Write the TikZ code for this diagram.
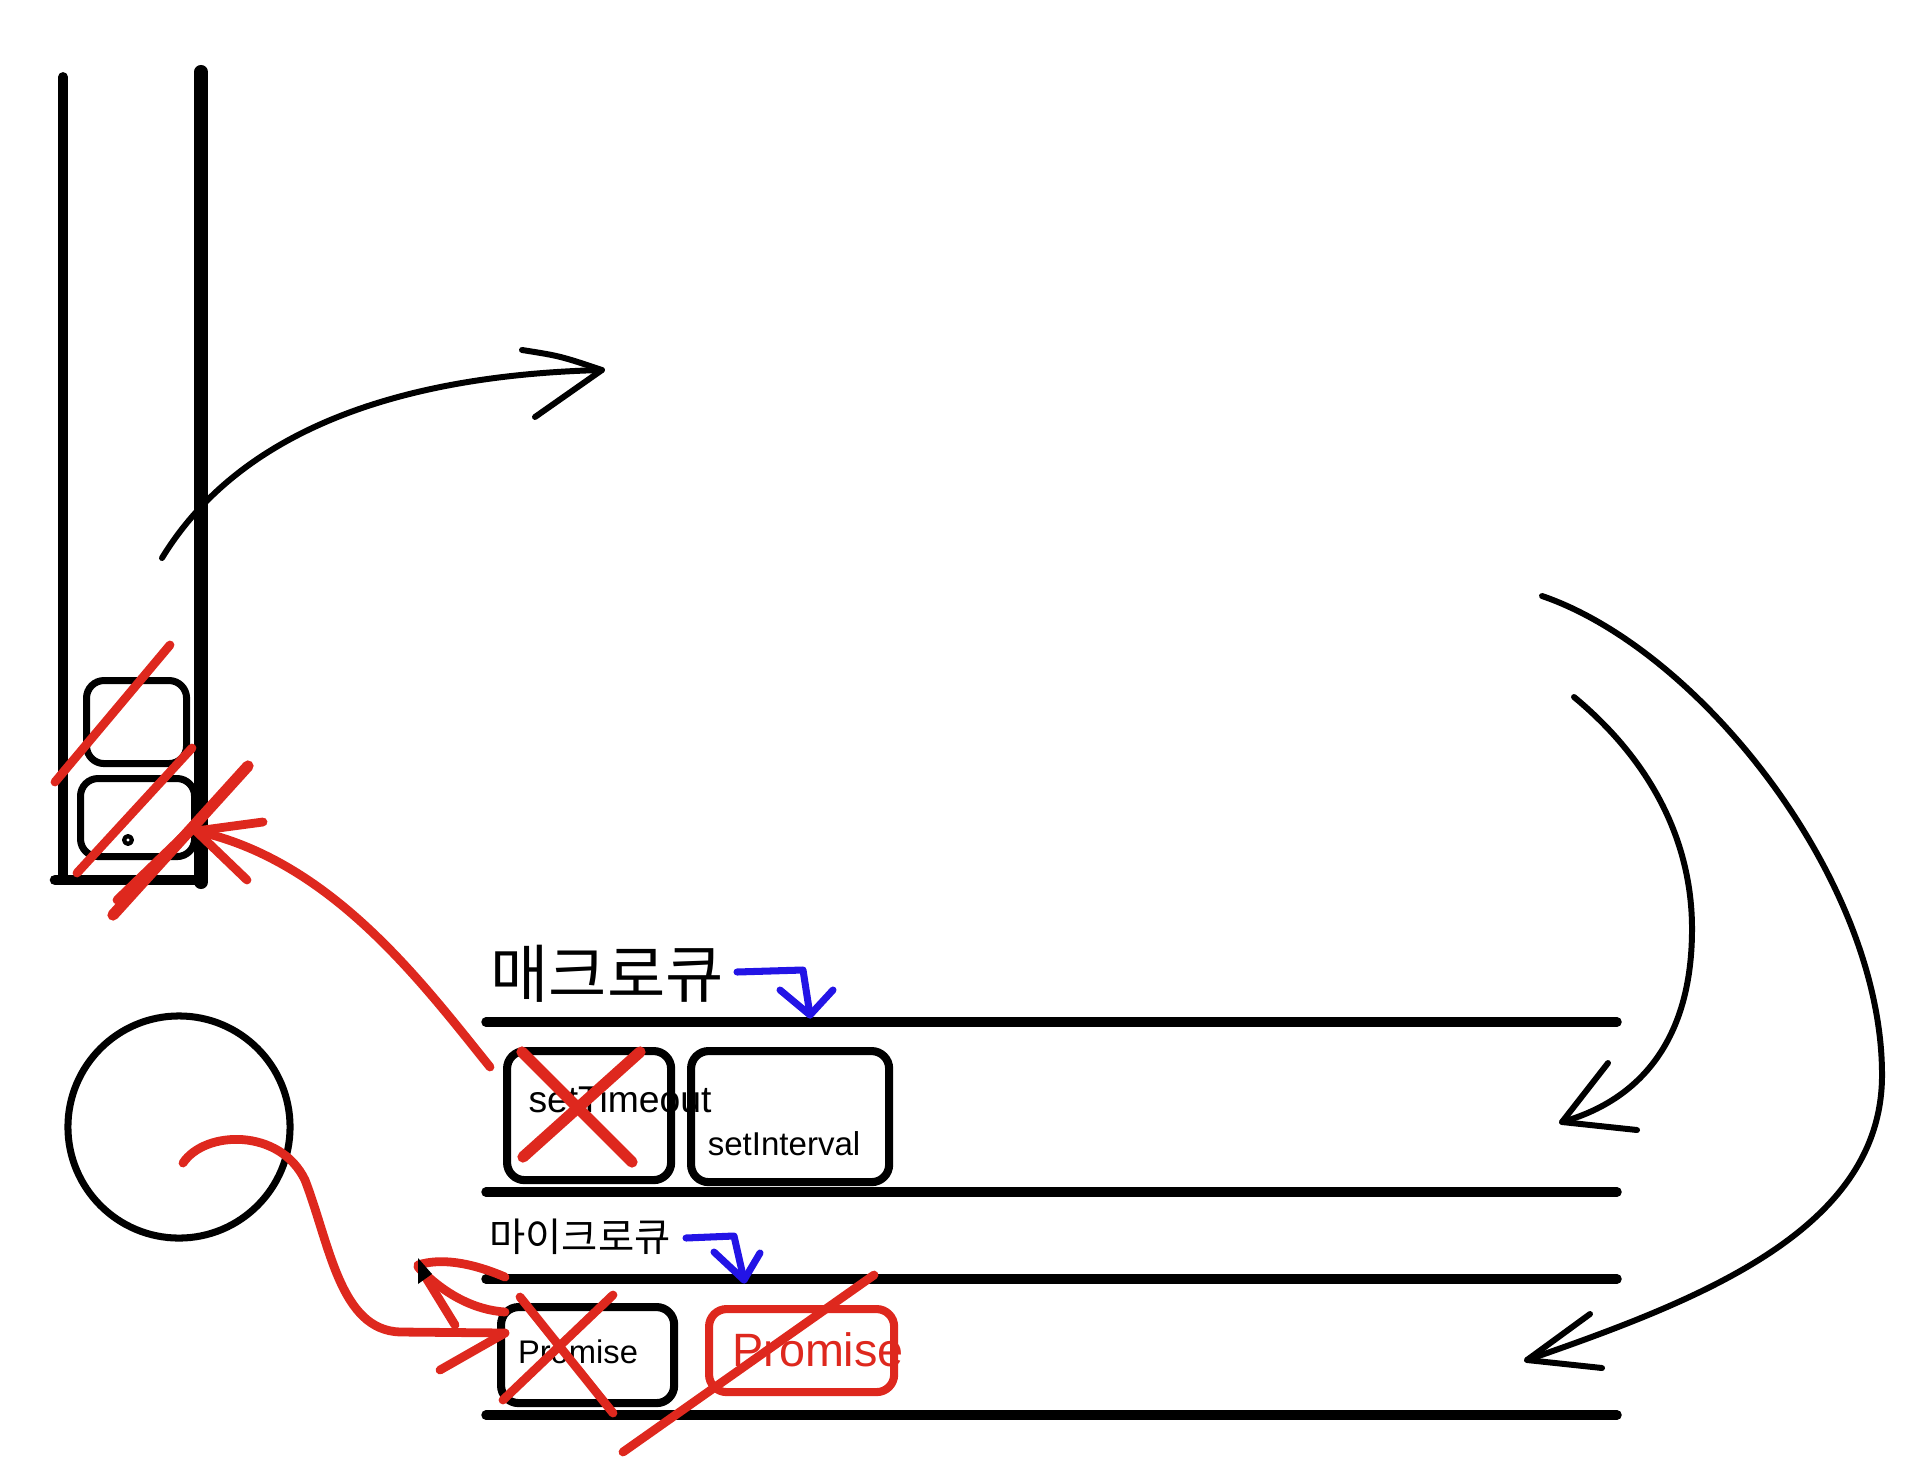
\documentclass[tikz,border=0pt]{standalone}
\usepackage{fontspec}
\setmainfont{Liberation Sans}
\newfontfamily\krfont{Noto Sans CJK KR}
\usepackage{tikz}
\usetikzlibrary{positioning}
\usepackage{xcolor}
\definecolor{penred}{RGB}{222,40,30}
\definecolor{penblue}{RGB}{35,20,230}

\begin{document}
\begin{tikzpicture}[x=0.01cm, y=-0.01cm, line cap=round, line join=round,
    every node/.style={inner sep=0pt},
    qline/.style={line width=2.7pt},
    qbox/.style={draw, line width=2.3pt, rounded corners=5pt, anchor=north west},
    pen/.style={line width=1.7pt},
    redpen/.style={penred, line width=2.5pt},
    bluepen/.style={penblue, line width=2pt}]
        \useasboundingbox (0,0) rectangle (1916,1464);
        % call stack
        \draw[line width=2.8pt] (63,77) -- (63,880);
        \draw[line width=4pt] (201,72) -- (201,882);
        \draw[line width=3pt] (55,880) -- (201,880);
        \node[qbox, line width=2pt, minimum width=1.0cm, minimum height=0.83cm] (frameA) at (83,677) {};
        \node[qbox, line width=2pt, minimum width=1.14cm, minimum height=0.78cm] (frameB) at (77,775) {};
        \draw[line width=1.2pt] (128,840) circle (1.1pt);
        \draw[redpen] (55,782) -- (170,645);
        \draw[redpen] (77,873) -- (192,748);
        \draw[redpen, line width=3.2pt] (113,915) -- (248,766);
        \draw[redpen] (117,900) -- (205,815);
        % web api
        \draw[pen] (162,558) .. controls (240,430) and (400,375) .. (602,370);
        \draw[pen] (522,350) .. controls (560,356) .. (602,370) -- (535,417);
        % event loop
        \node[draw, circle, line width=2pt, minimum size=2.22cm] (loop) at (179,1127) {};
        % queues
        \foreach \y in {1022,1192,1279,1415}
          \draw[qline] (486,\y) -- (1617,\y);
        \node[font=\krfont\fontsize{18}{20}\selectfont] (macroq) at (607,974) {매크로큐};
        \node[font=\krfont\fontsize{11.2}{13}\selectfont] (microq) at (580,1237) {마이크로큐};
        \draw[bluepen] (737,972) -- (803,970) -- (810,1015);
        \draw[bluepen] (780,990) -- (810,1015) -- (833,990);
        \draw[bluepen] (686,1238) -- (734,1236) -- (744,1280);
        \draw[bluepen] (714,1252) -- (744,1280) -- (760,1253);
        \node[qbox, minimum width=1.64cm, minimum height=1.29cm] (tobox) at (503,1047) {};
        \node[qbox, minimum width=1.98cm, minimum height=1.31cm] (ivbox) at (687,1047) {};
        \node[qbox, minimum width=1.73cm, minimum height=0.96cm] (pbox) at (497,1303) {};
        \node[qbox, penred, minimum width=1.85cm, minimum height=0.83cm] (pboxb) at (705,1305) {};
        \node[font=\fontsize{10.6}{12}\selectfont] (totext) at (620,1099) {setTimeout};
        \node[font=\fontsize{9.4}{11}\selectfont] (ivtext) at (784,1144) {setInterval};
        \node[font=\fontsize{9.3}{11}\selectfont] (ptext) at (578,1352) {Promise};
        \node[penred, font=\fontsize{13.3}{15}\selectfont] (ptextb) at (818,1350) {Promise};
        % crossed out
        \draw[redpen, line width=3.2pt] (522,1052) -- (632,1162);
        \draw[redpen, line width=3.2pt] (640,1052) -- (523,1157);
        \draw[redpen] (520,1297) -- (613,1413);
        \draw[redpen] (613,1295) -- (503,1400);
        \draw[redpen] (874,1275) -- (623,1452);
        % macro task back to stack
        \coordinate (stacktip) at (196,831);
        \draw[redpen] (490,1067) .. controls (420,980) and (330,860) .. (stacktip);
        \draw[redpen] (263,822) -- (stacktip) -- (247,880);
        % loop to micro queue
        \coordinate (microtip) at (505,1333);
        \draw[redpen] (183,1163) .. controls (205,1130) and (280,1128) .. (305,1180)
          .. controls (330,1245) and (340,1330) .. (400,1332) -- (microtip);
        \draw[redpen] (440,1370) -- (microtip);
        \draw[redpen] (505,1277) .. controls (470,1262) and (440,1258) .. (418,1265);
        \draw[redpen] (418,1267) .. controls (445,1295) and (475,1310) .. (505,1312);
        \draw[redpen] (420,1268) -- (455,1325);
        \fill (418,1258) -- (418,1284) -- (432,1274) -- cycle;
        % callbacks into queues
        \draw[pen] (1574,697) .. controls (1650,760) and (1692,840) .. (1692,929)
          .. controls (1692,1040) and (1640,1100) .. (1562,1122);
        \draw[pen] (1608,1063) -- (1562,1122) -- (1637,1130);
        \draw[pen] (1542,596) .. controls (1700,650) and (1882,880) .. (1882,1075)
          .. controls (1882,1230) and (1700,1300) .. (1527,1360);
        \draw[pen] (1590,1314) -- (1527,1360) -- (1602,1368);
\end{tikzpicture}
\end{document}
